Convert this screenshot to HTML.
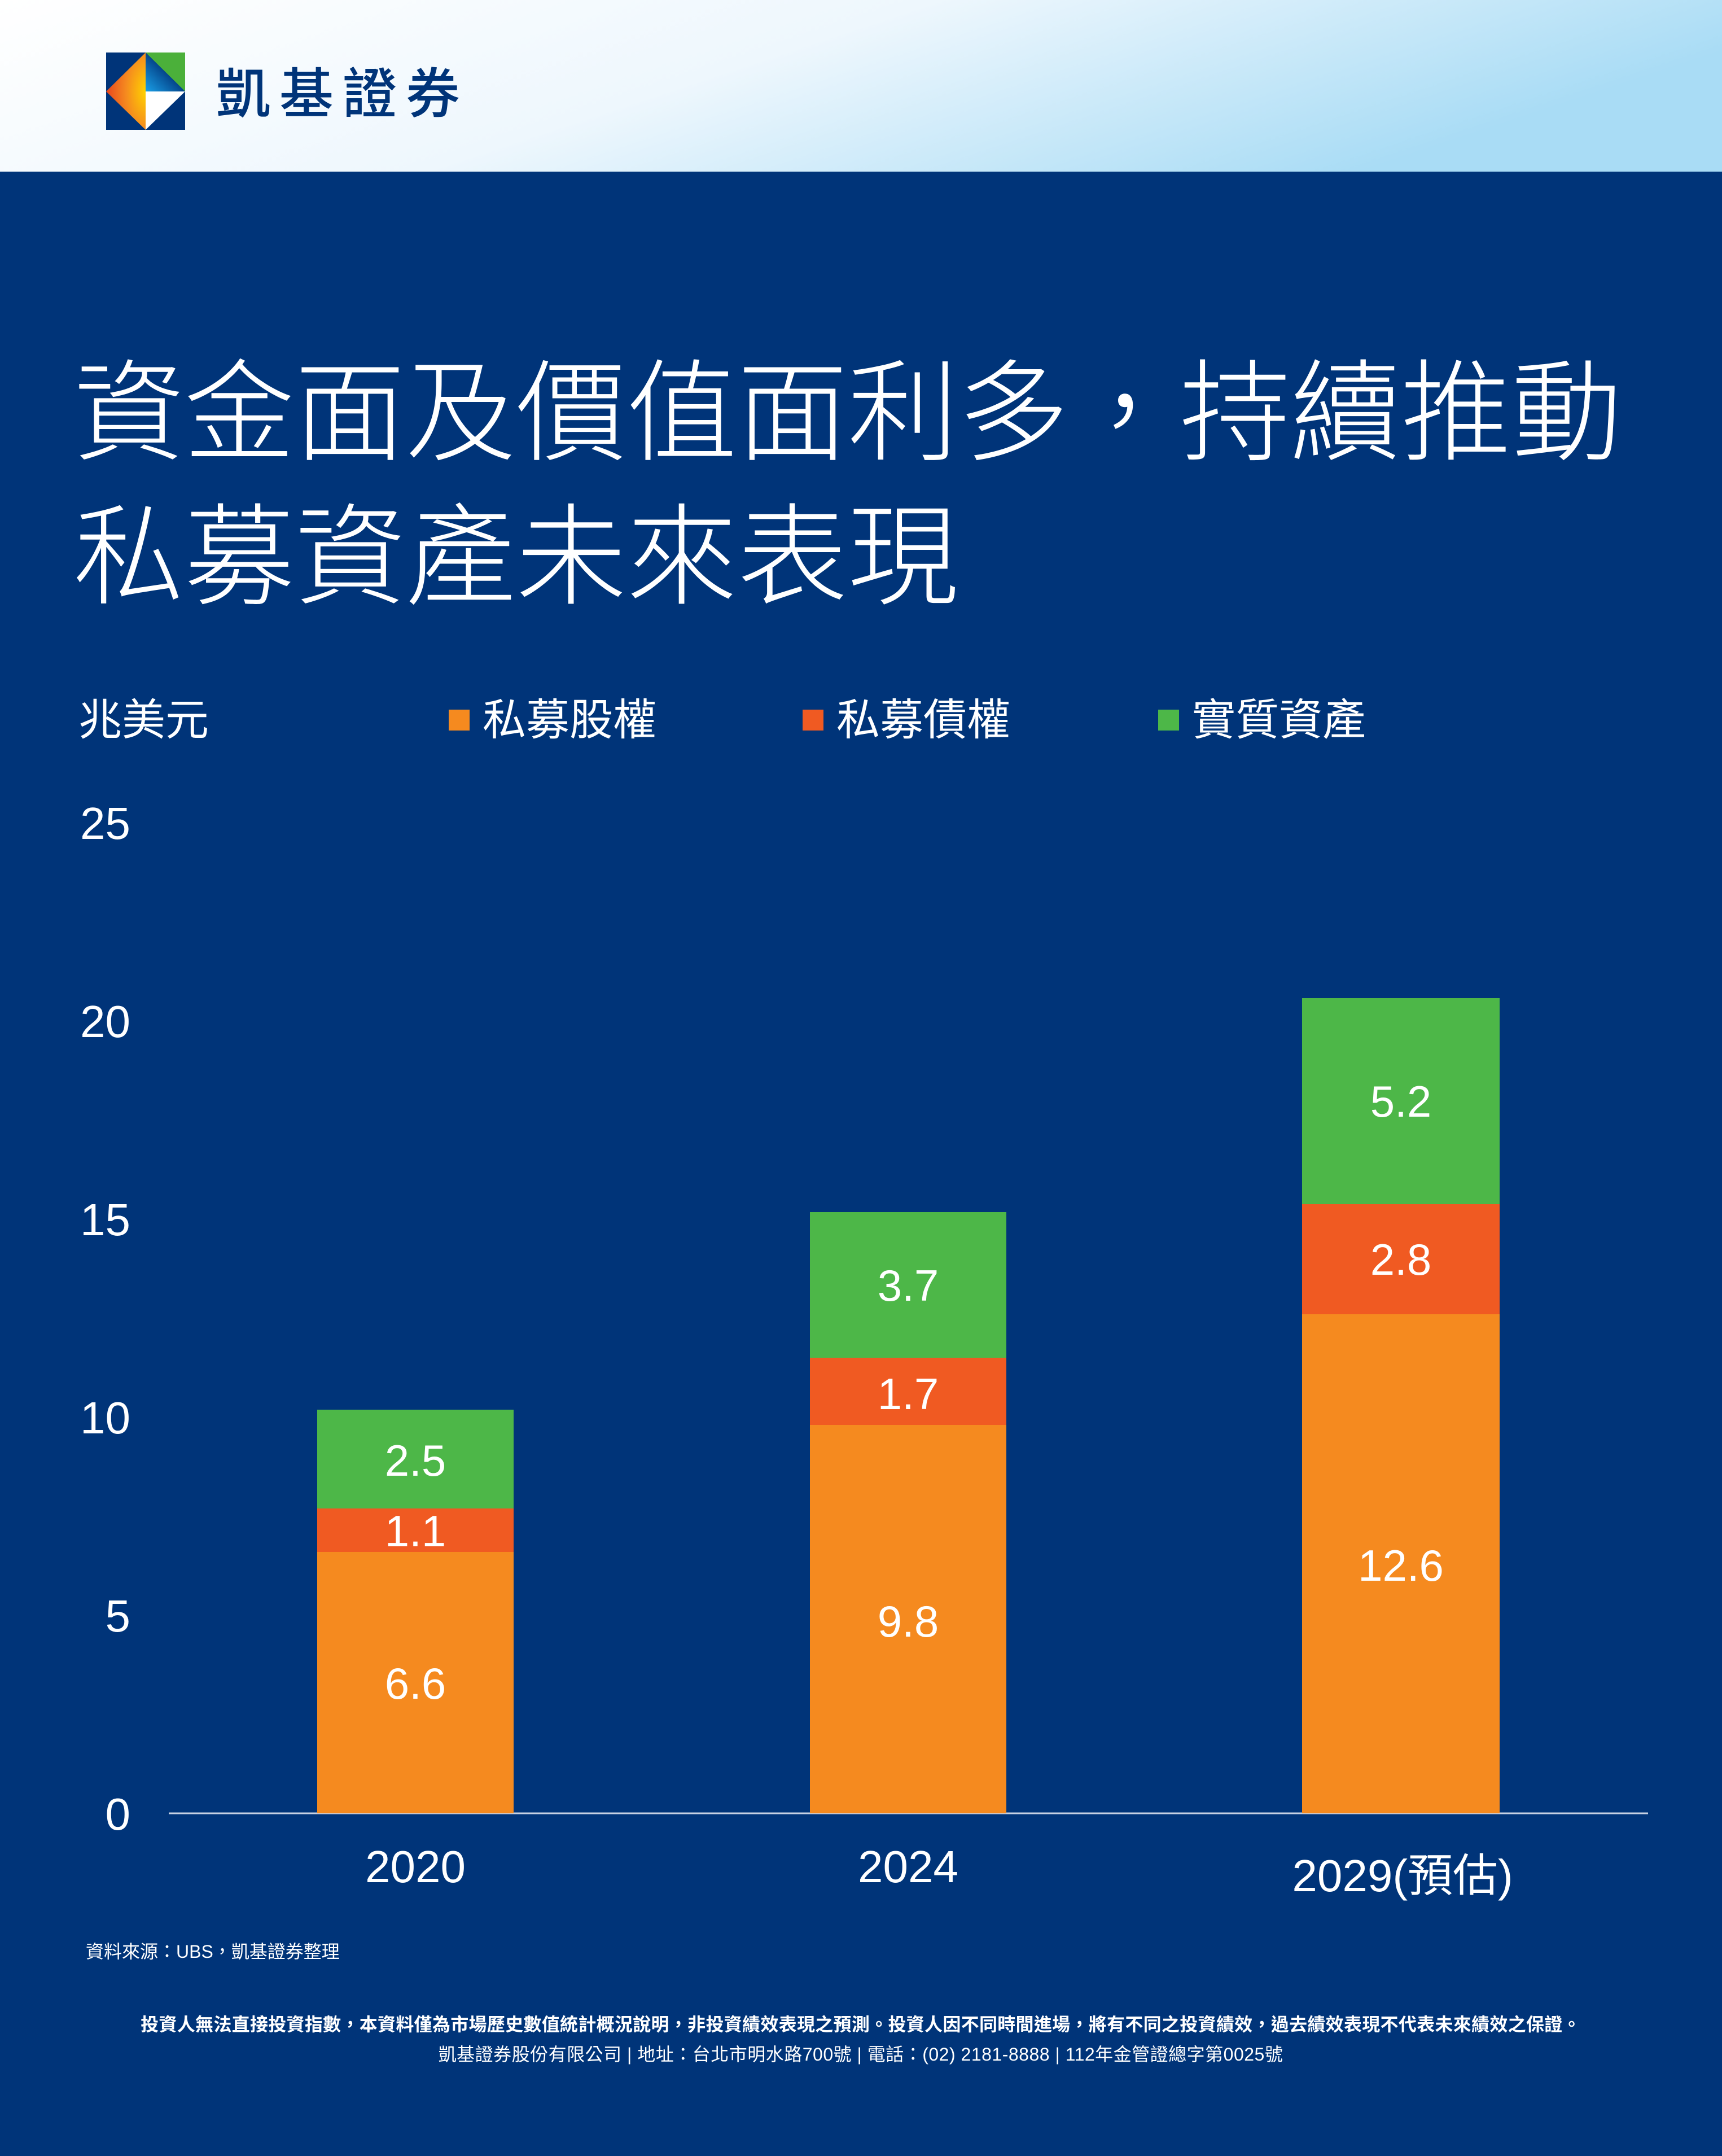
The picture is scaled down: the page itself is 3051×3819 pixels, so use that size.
<!DOCTYPE html>
<html><head><meta charset="utf-8"><style>
html,body{margin:0;padding:0;}
body{width:3051px;height:3814px;overflow:hidden;background:#003479;}
svg text{font-family:"Liberation Sans","Noto Sans CJK TC",sans-serif;}
</style></head><body>
<svg width="3051" height="3814" viewBox="0 0 3051 3814" xmlns="http://www.w3.org/2000/svg">
<defs>
<linearGradient id="hdr" x1="0" y1="0" x2="1" y2="0.3">
<stop offset="0" stop-color="#ffffff"/><stop offset="0.5" stop-color="#eef7fd"/><stop offset="1" stop-color="#a9dcf5"/>
</linearGradient>
<radialGradient id="lg" cx="1" cy="0.5" r="1">
<stop offset="0" stop-color="#ffd200"/><stop offset="0.5" stop-color="#f58a1f"/><stop offset="1" stop-color="#e8461e"/>
</radialGradient>
<linearGradient id="bl" x1="0" y1="1" x2="1" y2="0">
<stop offset="0" stop-color="#1aa0e8"/><stop offset="0.6" stop-color="#003479"/>
</linearGradient>
</defs>
<rect x="0" y="0" width="3051" height="3814" fill="#003479"/>
<rect x="0" y="0" width="3051" height="304" fill="url(#hdr)"/>
<!-- logo -->
<rect x="188" y="93" width="140" height="137" fill="#003479"/>
<polygon points="328,93 258,93 328,162" fill="#4bb03a"/>
<polygon points="258,93 188,162 258,230" fill="url(#lg)"/>
<polygon points="258,93 328,162 258,162" fill="url(#bl)"/>
<polygon points="258,162 328,162 258,230" fill="#ffffff"/>
<text x="383" y="200" font-size="96" font-weight="500" fill="#003479" letter-spacing="16">凱基證券</text>
<!-- title -->
<text x="130" y="800" font-size="196" font-weight="300" fill="#fff">資金面及價值面利多，持續推動</text>
<text x="130" y="1055" font-size="196" font-weight="300" fill="#fff">私募資產未來表現</text>
<!-- legend -->
<text x="139" y="1302" font-size="77" fill="#fff">兆美元</text>
<rect x="795" y="1257" width="37" height="37" fill="#f58a1f"/>
<text x="855" y="1302" font-size="77" fill="#fff">私募股權</text>
<rect x="1422" y="1257" width="37" height="37" fill="#f05a22"/>
<text x="1482" y="1302" font-size="77" fill="#fff">私募債權</text>
<rect x="2052" y="1257" width="37" height="37" fill="#4db748"/>
<text x="2112" y="1302" font-size="77" fill="#fff">實質資產</text>
<!-- y axis -->
<g font-size="80" fill="#fff" text-anchor="end">
<text x="231" y="1486">25</text>
<text x="231" y="1837">20</text>
<text x="231" y="2188">15</text>
<text x="231" y="2539">10</text>
<text x="231" y="2890">5</text>
<text x="231" y="3241">0</text>
</g>
<line x1="299" y1="3212" x2="2920" y2="3212" stroke="#c8d2e4" stroke-width="3"/>
<!-- bars -->
<rect x="562" y="2749" width="348" height="463" fill="#f58a1f"/>
<rect x="562" y="2672" width="348" height="77" fill="#f05a22"/>
<rect x="562" y="2497" width="348" height="175" fill="#4db748"/>
<rect x="1435" y="2524" width="348" height="688" fill="#f58a1f"/>
<rect x="1435" y="2405" width="348" height="119" fill="#f05a22"/>
<rect x="1435" y="2147" width="348" height="258" fill="#4db748"/>
<rect x="2307" y="2328" width="350" height="884" fill="#f58a1f"/>
<rect x="2307" y="2133" width="350" height="195" fill="#f05a22"/>
<rect x="2307" y="1768" width="350" height="365" fill="#4db748"/>
<g font-size="78" fill="#fff" text-anchor="middle">
<text x="736" y="3009">6.6</text>
<text x="736" y="2739">1.1</text>
<text x="736" y="2614">2.5</text>
<text x="1609" y="2899">9.8</text>
<text x="1609" y="2496">1.7</text>
<text x="1609" y="2304">3.7</text>
<text x="2482" y="2800">12.6</text>
<text x="2482" y="2258">2.8</text>
<text x="2482" y="1978">5.2</text>
</g>
<g font-size="80" fill="#fff" text-anchor="middle">
<text x="736" y="3334">2020</text>
<text x="1609" y="3334">2024</text>
<text x="2485" y="3350">2029(預估)</text>
</g>
<text x="152" y="3468" font-size="32" fill="#fff">資料來源：UBS，凱基證券整理</text>
<text x="1525" y="3597" font-size="32" font-weight="bold" fill="#fff" text-anchor="middle" letter-spacing="0.3">投資人無法直接投資指數，本資料僅為市場歷史數值統計概況說明，非投資績效表現之預測。投資人因不同時間進場，將有不同之投資績效，過去績效表現不代表未來績效之保證。</text>
<text x="1525" y="3650" font-size="32" fill="#fff" text-anchor="middle" letter-spacing="0.5">凱基證券股份有限公司 | 地址：台北市明水路700號 | 電話：(02) 2181-8888 | 112年金管證總字第0025號</text>
</svg>
</body></html>
